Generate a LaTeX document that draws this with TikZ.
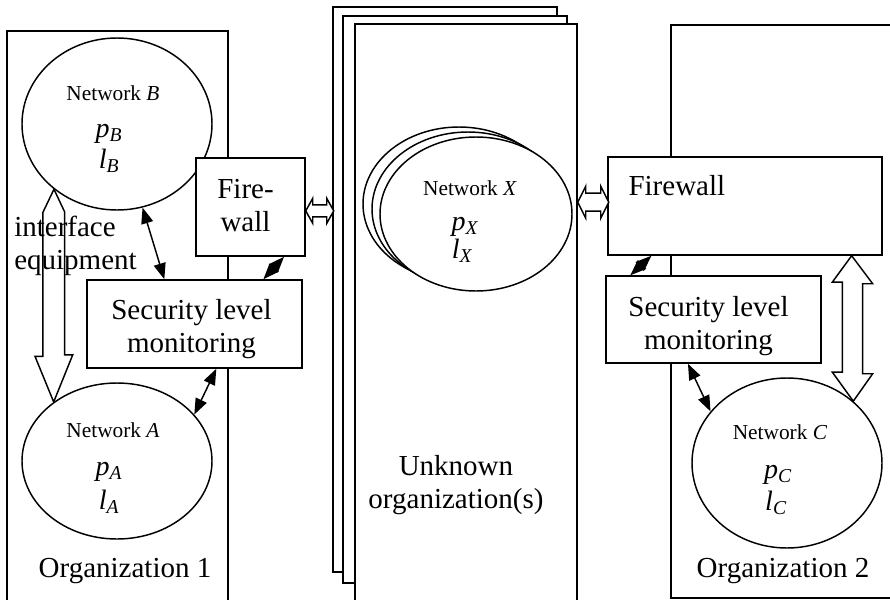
\documentclass[tikz,border=0pt]{standalone}
\usepackage{fontspec}
\setmainfont{Liberation Serif}
\usetikzlibrary{arrows.meta}
\usetikzlibrary{shapes.geometric}
\usetikzlibrary{calc}

\tikzset{
  big/.style={font=\fontsize{21.75}{24.75}\selectfont, inner sep=0pt},
  small/.style={font=\fontsize{16}{18}\selectfont, inner sep=0pt},
  var/.style={font=\fontsize{21}{24}\selectfont\itshape, inner sep=0pt},
  net/.style={draw, ellipse, line width=1.1pt, fill=white, inner sep=0pt},
  box/.style={draw, rectangle, line width=1.1pt, fill=white, inner sep=0pt},
  frame/.style={draw, rectangle, line width=1.1pt, inner sep=0pt},
  link/.style={line width=1.1pt, {Triangle[length=12pt,width=9pt]}-{Triangle[length=12pt,width=9pt]}},
  hollow/.style={line width=1.1pt, fill=white, line join=miter},
}

\begin{document}
\begin{tikzpicture}[x=0.75pt,y=0.75pt,yscale=-1,xscale=1]
\path[use as bounding box] (0,0) rectangle (890,600);

%Shape: Rectangle [organizations]
\node[frame, minimum width=165.75pt, minimum height=441.75pt] (org1box) at (117.5,325.5) {};
\node[frame, minimum width=171.75pt, minimum height=429.75pt] (org2box) at (785.5,311.5) {};
%Shape: Rectangle [unknown stack]
\node[box, minimum width=168pt, minimum height=423.75pt] (uoBack) at (445,289.5) {};
\node[box, minimum width=168pt, minimum height=425.25pt] (uoMid) at (455,299.5) {};
\node[box, minimum width=166.5pt, minimum height=447pt] (uoFront) at (466,322) {};

%Shape: Ellipse
\node[net, minimum width=142.5pt, minimum height=129pt] (netB) at (117,124) {};
\node[net, minimum width=142.5pt, minimum height=117pt] (netA) at (117,461) {};
\node[net, minimum width=142.5pt, minimum height=127.5pt] (netC) at (787,463) {};
\node[net, minimum width=144pt, minimum height=115.5pt] (netX3) at (459,204) {};
\node[net, minimum width=144pt, minimum height=115.5pt] (netX2) at (468,209) {};
\node[net, minimum width=144pt, minimum height=115.5pt] (netX) at (476,214) {};

%Shape: Rectangle [firewalls, monitoring]
\node[box, minimum width=81.75pt, minimum height=73.5pt] (fwL) at (250.5,207) {};
\node[box, minimum width=161.25pt, minimum height=66pt] (slmL) at (194.5,324) {};
\node[box, minimum width=205.5pt, minimum height=73.5pt] (fwR) at (745,206) {};
\node[box, minimum width=161.25pt, minimum height=65.25pt] (slmR) at (713.5,319.5) {};

% Text Node
\node[small, anchor=base] (labB) at ($(netB)+(-4,-24)$) {Network \textit{B}};
\node[var, anchor=base] (pB) at ($(netB)+(-8,13)$) {p\textsubscript{B}};
\node[var, anchor=base] (lB) at ($(netB)+(-8,44)$) {l\textsubscript{B}};
% Text Node
\node[small, anchor=base] (labA) at ($(netA)+(-4,-24)$) {Network \textit{A}};
\node[var, anchor=base] (pA) at ($(netA)+(-8,14)$) {p\textsubscript{A}};
\node[var, anchor=base] (lA) at ($(netA)+(-8,48)$) {l\textsubscript{A}};
% Text Node
\node[small, anchor=base] (labC) at ($(netC)+(-7,-24)$) {Network \textit{C}};
\node[var, anchor=base] (pC) at ($(netC)+(-9,15)$) {p\textsubscript{C}};
\node[var, anchor=base] (lC) at ($(netC)+(-11,47)$) {l\textsubscript{C}};
% Text Node
\node[small, anchor=base] (labX) at ($(netX)+(-6,-19)$) {Network \textit{X}};
\node[var, anchor=base] (pX) at ($(netX)+(-11,16)$) {p\textsubscript{X}};
\node[var, anchor=base] (lX) at ($(netX)+(-14,44)$) {l\textsubscript{X}};

% Text Node
\node[big, align=center, anchor=north] (fwLtxt) at ($(fwL.north)+(-5,22)$) {Fire-\\wall};
\node[big, anchor=base west] (fwRtxt) at ($(fwR.west)+(21,-11)$) {Firewall};
\node[big, align=center, anchor=north] (slmLtxt) at ($(slmL.north)+(-3,20)$) {Security level\\monitoring};
\node[big, align=center, anchor=north] (slmRtxt) at ($(slmR.north)+(-5,21)$) {Security level\\monitoring};
\node[big, anchor=base] (org1txt) at (125,577) {Organization 1};
\node[big, anchor=base] (org2txt) at (783,577) {Organization 2};
\node[big, align=center, anchor=north] (uotxt) at (456,455) {Unknown\\organization(s)};

%Straight Lines [monitoring links]
\draw[link] (netB.-73) -- (slmL.124);
\draw[link] (slmL.33) -- (fwL.-56);
\draw[link] (slmL.-64) -- (netA.31);
\draw[link] (fwR.208) -- (slmR.152);
\draw[link] (slmR.240) -- (netC.146);

%Shape: Arrow [hollow, interface equipment]
\draw[hollow] (netB.226) -- ++(-11,23) -- ++(0,144) -- ++(-8,0) -- (netA.137)
  -- ++(19,-47) -- ++(-8,0) -- ++(0,-143) -- cycle;
%Shape: Arrow [hollow, firewall to network C]
\draw[hollow] (fwR.-25) -- ++(21,28) -- ++(-10,0) -- ++(0,90) -- ++(10,0) -- (netC.43)
  -- ++(-21,-29) -- ++(10,0) -- ++(0,-90) -- ++(-10,0) -- cycle;
%Shape: Arrow [hollow, firewall to unknown]
\draw[hollow] (fwL.-4) -- ++(7,-12.5) -- ++(0,6.5) -- ++(14,0) -- ++(0,-6.5) -- ++(7,12.5)
  -- ++(-7,12.5) -- ++(0,-6.5) -- ++(-14,0) -- ++(0,6.5) -- cycle;
\draw[hollow] (uoFront.47) -- ++(8,-16) -- ++(0,7) -- ++(15,0) -- ++(0,-7) -- ++(8,16)
  -- ++(-8,16) -- ++(0,-7) -- ++(-15,0) -- ++(0,7) -- cycle;

% Text Node
\node[big, align=left, anchor=north west] (iface) at (14,216) {interface\\equipment};

\end{tikzpicture}
\end{document}
